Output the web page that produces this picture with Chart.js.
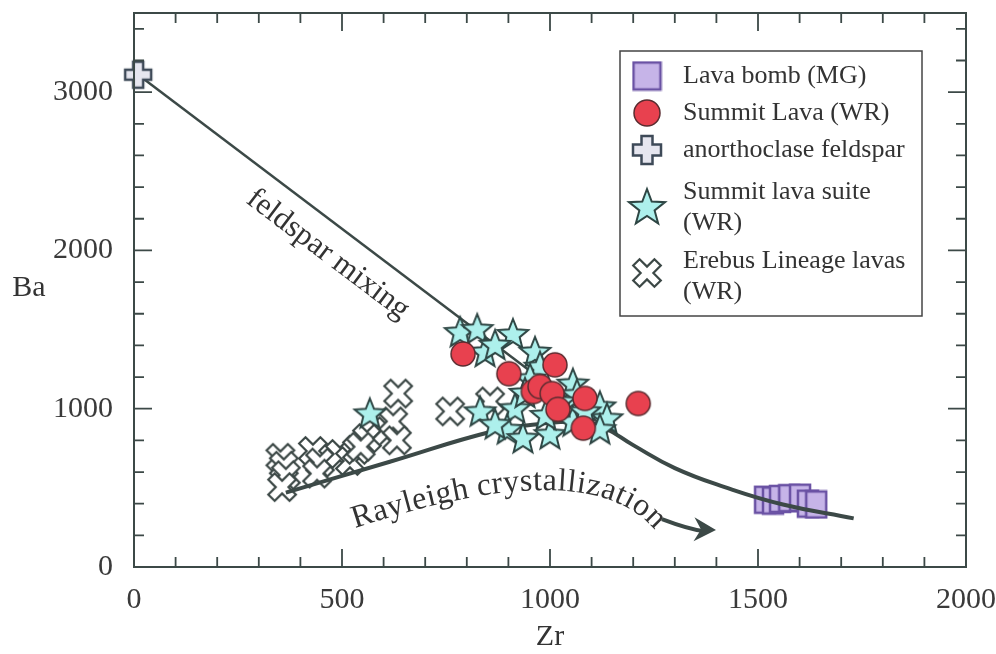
<!DOCTYPE html>
<html>
<head>
<meta charset="utf-8">
<title>Ba vs Zr</title>
<script src="https://cdn.jsdelivr.net/npm/chart.js@4.4.1/dist/chart.umd.min.js"></script>
<style>
  html, body { margin: 0; padding: 0; background: #fff; }
  canvas { display: block; }
</style>
</head>
<body>
<canvas id="baZrChart" width="996" height="654"></canvas>
<script>
// Sample groups, Zr and Ba in ppm
const lavaBombZr = [1517, 1536, 1553, 1575, 1601, 1620, 1640];
const lavaBombBa = [425, 420, 430, 435, 438, 400, 395];

const summitLavaZr = [791, 901, 1012, 960, 976, 1005, 1019, 1084, 1080, 1212];
const summitLavaBa = [1346, 1221, 1277, 1108, 1140, 1096, 996, 1065, 877, 1033];

const feldsparZr = [10];
const feldsparBa = [3110];

const suiteZr = [784, 825, 911, 844, 868, 964, 976, 952, 1055, 1065, 1120, 1137, 1120, 832, 916, 897, 935, 1000, 1055, 567, 1024, 1084, 868, 940, 990];
const suiteBa = [1484, 1503, 1472, 1359, 1403, 1359, 1265, 1190, 1158, 1090, 1014, 939, 870, 983, 1002, 870, 814, 839, 920, 970, 1045, 983, 902, 1100, 960];

const erebusZr = [352, 360, 365, 356, 430, 447, 440, 495, 519, 536, 560, 545, 608, 623, 632, 635, 760, 856];
const erebusBa = [690, 640, 580, 505, 733, 660, 590, 714, 670, 740, 814, 760, 858, 920, 800, 1096, 983, 1046];

// Model curves
const mixingZr = [10, 1120];
const mixingBa = [3110, 905];
const rayleighZr = [365, 615, 863, 980, 1080, 1130, 1200, 1300, 1420, 1560, 1730];
const rayleighBa = [470, 665, 858, 905, 915, 880, 770, 625, 505, 395, 307];

// Axis ticks
const zrTicks = [0, 500, 1000, 1500, 2000];
const baTicks = [0, 1000, 2000, 3000];

const INK = '#3c4947';
const SERIF = "'Liberation Serif', 'Times New Roman', serif";

function points(xs, ys) {
  return xs.map((x, i) => ({ x: x, y: ys[i] }));
}

// Marker sprites
function sprite(w, h, draw) {
  const c = document.createElement('canvas');
  c.width = w;
  c.height = h;
  const g = c.getContext('2d');
  g.translate(w / 2, h / 2);
  draw(g);
  return c;
}

function squareMark(w, h) {
  return sprite(w + 4, h + 4, g => {
    g.fillStyle = '#c6b4e8';
    g.strokeStyle = '#6a52a4';
    g.lineWidth = 2.5;
    g.fillRect(-w / 2, -h / 2, w, h);
    g.strokeRect(-w / 2, -h / 2, w, h);
  });
}

function circleMark(r) {
  return sprite(2 * r + 4, 2 * r + 4, g => {
    g.beginPath();
    g.arc(0, 0, r, 0, Math.PI * 2);
    g.fillStyle = '#e8414f';
    g.fill();
    g.strokeStyle = '#5a2c30';
    g.lineWidth = 1.5;
    g.stroke();
  });
}

function starMark(R, r) {
  return sprite(2 * R + 6, 2 * R + 6, g => {
    g.beginPath();
    for (let i = 0; i < 10; i++) {
      const a = -Math.PI / 2 + i * Math.PI / 5;
      const rad = i % 2 === 0 ? R : r;
      g.lineTo(Math.cos(a) * rad, Math.sin(a) * rad + 1);
    }
    g.closePath();
    g.fillStyle = '#adf0ec';
    g.fill();
    g.strokeStyle = '#2e4644';
    g.lineWidth = 2;
    g.lineJoin = 'miter';
    g.stroke();
  });
}

function plusPath(g, L, w) {
  const p = [[-w, -L], [w, -L], [w, -w], [L, -w], [L, w], [w, w], [w, L], [-w, L], [-w, w], [-L, w], [-L, -w], [-w, -w]];
  g.beginPath();
  p.forEach(([x, y]) => g.lineTo(x, y));
  g.closePath();
}

function crossMark(L, w) {
  return sprite(2 * L + 6, 2 * L + 6, g => {
    plusPath(g, L, w);
    g.fillStyle = '#e6e6ef';
    g.fill();
    g.strokeStyle = '#3e4a58';
    g.lineWidth = 2.5;
    g.stroke();
  });
}

function saltireMark(L, w) {
  const s = Math.ceil((L + w) * 1.5) + 4;
  return sprite(s, s, g => {
    g.rotate(Math.PI / 4);
    plusPath(g, L, w);
    g.fillStyle = '#fff';
    g.fill();
    g.strokeStyle = '#3c4846';
    g.lineWidth = 2.2;
    g.stroke();
  });
}

const marks = {
  bomb: squareMark(20, 26),
  lava: circleMark(12),
  feldspar: crossMark(13, 5),
  suite: starMark(16, 7),
  erebus: saltireMark(15, 4.5)
};

const legendMarks = {
  bomb: squareMark(27, 27),
  lava: circleMark(13),
  feldspar: crossMark(14, 5.5),
  suite: starMark(19, 8),
  erebus: saltireMark(15, 4.5)
};

// Text laid along a cubic curve given in pixels
function textOnCurve(ctx, text, p, font) {
  const N = 300;
  const pts = [];
  const len = [0];
  for (let i = 0; i <= N; i++) {
    const t = i / N, u = 1 - t;
    const x = u * u * u * p[0].x + 3 * u * u * t * p[1].x + 3 * u * t * t * p[2].x + t * t * t * p[3].x;
    const y = u * u * u * p[0].y + 3 * u * u * t * p[1].y + 3 * u * t * t * p[2].y + t * t * t * p[3].y;
    pts.push({ x, y });
    if (i > 0) len.push(len[i - 1] + Math.hypot(x - pts[i - 1].x, y - pts[i - 1].y));
  }
  ctx.font = font;
  const chars = [...text];
  const widths = chars.map(c => ctx.measureText(c).width);
  const total = widths.reduce((a, b) => a + b, 0);
  const gap = Math.max(0, (len[N] - total) / (chars.length - 1));
  let s = 0;
  ctx.textAlign = 'center';
  ctx.textBaseline = 'alphabetic';
  chars.forEach((c, i) => {
    const mid = s + widths[i] / 2;
    let k = 1;
    while (k < N && len[k] < mid) k++;
    const a = pts[k - 1], b = pts[k];
    const f = (mid - len[k - 1]) / ((len[k] - len[k - 1]) || 1);
    ctx.save();
    ctx.translate(a.x + (b.x - a.x) * f, a.y + (b.y - a.y) * f);
    ctx.rotate(Math.atan2(b.y - a.y, b.x - a.x));
    ctx.fillText(c, 0, 0);
    ctx.restore();
    s += widths[i] + gap;
  });
}

// Curve labels and the arrow
const labels = {
  id: 'labels',
  afterDatasetsDraw(chart) {
    const { ctx, scales: { x, y } } = chart;
    const px = (zr, ba) => ({ x: x.getPixelForValue(zr), y: y.getPixelForValue(ba) });
    ctx.save();
    ctx.fillStyle = '#333';

    // feldspar mixing, parallel to the mixing line
    const m0 = px(mixingZr[0], mixingBa[0]);
    const m1 = px(mixingZr[1], mixingBa[1]);
    const c = px(466, 1975);
    ctx.translate(c.x, c.y);
    ctx.rotate(Math.atan2(m1.y - m0.y, m1.x - m0.x));
    ctx.font = '31px ' + SERIF;
    ctx.textAlign = 'center';
    ctx.textBaseline = 'middle';
    ctx.fillText('feldspar mixing', 0, 0);
    ctx.setTransform(1, 0, 0, 1, 0, 0);

    textOnCurve(ctx, 'Rayleigh crystallization',
      [px(531, 246), px(808, 486), px(1120, 643), px(1252, 233)], '32px ' + SERIF);

    // arrow
    const a0 = px(1269, 303), a1 = px(1332, 240), tip = px(1399, 233);
    ctx.strokeStyle = INK;
    ctx.fillStyle = INK;
    ctx.lineWidth = 4;
    ctx.beginPath();
    ctx.moveTo(a0.x, a0.y);
    ctx.quadraticCurveTo(a1.x, a1.y, tip.x - 12, tip.y + 1);
    ctx.stroke();
    const ang = Math.atan2(tip.y - a1.y, tip.x - a1.x);
    ctx.translate(tip.x, tip.y);
    ctx.rotate(ang);
    ctx.beginPath();
    ctx.moveTo(0, 0);
    ctx.lineTo(-22, -12);
    ctx.lineTo(-15, 0);
    ctx.lineTo(-22, 12);
    ctx.closePath();
    ctx.fill();
    ctx.restore();
  }
};

// Frame, inward ticks on all sides, Ba title and legend box
const frame = {
  id: 'frame',
  afterDraw(chart) {
    const { ctx, chartArea: a, scales: { x, y } } = chart;
    ctx.save();
    ctx.strokeStyle = INK;
    ctx.lineWidth = 2;
    ctx.strokeRect(a.left, a.top, a.right - a.left, a.bottom - a.top);

    ctx.lineWidth = 1.8;
    ctx.beginPath();
    for (let v = 100; v < 2000; v += 100) {
      const p = x.getPixelForValue(v);
      const l = v % 500 === 0 ? 18 : 10;
      ctx.moveTo(p, a.bottom); ctx.lineTo(p, a.bottom - l);
      ctx.moveTo(p, a.top); ctx.lineTo(p, a.top + l);
    }
    for (let v = 200; v < 3500; v += 200) {
      const p = y.getPixelForValue(v);
      const l = v % 1000 === 0 ? 18 : 10;
      ctx.moveTo(a.left, p); ctx.lineTo(a.left + l, p);
      ctx.moveTo(a.right, p); ctx.lineTo(a.right - l, p);
    }
    ctx.stroke();

    ctx.fillStyle = '#333';
    ctx.font = '30px ' + SERIF;
    ctx.textAlign = 'center';
    ctx.textBaseline = 'middle';
    ctx.fillText('Ba', 29, 288);

    // legend
    const L = a.right - 346, T = a.top + 38, W = 302, H = 265;
    ctx.fillStyle = '#fff';
    ctx.fillRect(L, T, W, H);
    ctx.strokeStyle = '#444';
    ctx.lineWidth = 1.5;
    ctx.strokeRect(L, T, W, H);

    const rows = [
      { mark: legendMarks.bomb, my: 25, lines: ['Lava bomb (MG)'], ty: [25] },
      { mark: legendMarks.lava, my: 62, lines: ['Summit Lava (WR)'], ty: [62] },
      { mark: legendMarks.feldspar, my: 99, lines: ['anorthoclase feldspar'], ty: [99] },
      { mark: legendMarks.suite, my: 156, lines: ['Summit lava suite', '(WR)'], ty: [141, 172] },
      { mark: legendMarks.erebus, my: 222, lines: ['Erebus Lineage lavas', '(WR)'], ty: [210, 241] }
    ];
    ctx.font = '26px ' + SERIF;
    ctx.textAlign = 'left';
    ctx.fillStyle = '#333';
    rows.forEach(r => {
      ctx.drawImage(r.mark, L + 27 - r.mark.width / 2, T + r.my - r.mark.height / 2);
      r.lines.forEach((t, i) => ctx.fillText(t, L + 63, T + r.ty[i]));
    });
    ctx.restore();
  }
};

function renderChart() {
  const ctx = document.getElementById('baZrChart').getContext('2d');
  Chart.defaults.font.family = SERIF;
  Chart.defaults.color = '#333';

  new Chart(ctx, {
    type: 'scatter',
    data: {
      datasets: [
        { label: 'Erebus Lineage lavas (WR)', data: points(erebusZr, erebusBa), pointStyle: marks.erebus, pointRadius: 12, order: 7 },
        { label: 'Lava bomb (MG)', data: points(lavaBombZr, lavaBombBa), pointStyle: marks.bomb, pointRadius: 12, order: 6 },
        { label: 'Rayleigh crystallization', data: points(rayleighZr, rayleighBa), showLine: true, pointRadius: 0,
          borderColor: INK, borderWidth: 4, tension: 0.45, order: 5 },
        { label: 'feldspar mixing', data: points(mixingZr, mixingBa), showLine: true, pointRadius: 0,
          borderColor: INK, borderWidth: 2.5, tension: 0, order: 4 },
        { label: 'Summit lava suite (WR)', data: points(suiteZr, suiteBa), pointStyle: marks.suite, pointRadius: 12, order: 3 },
        { label: 'Summit Lava (WR)', data: points(summitLavaZr, summitLavaBa), pointStyle: marks.lava, pointRadius: 12, order: 2 },
        { label: 'anorthoclase feldspar', data: points(feldsparZr, feldsparBa), pointStyle: marks.feldspar, pointRadius: 12, order: 1, clip: false }
      ]
    },
    options: {
      responsive: false,
      animation: false,
      devicePixelRatio: 1,
      layout: { padding: { left: 0, right: 30, top: 10, bottom: 0 } },
      plugins: { legend: { display: false }, tooltip: { enabled: false } },
      scales: {
        x: {
          type: 'linear', min: 0, max: 2000,
          grid: { display: false },
          border: { display: false },
          afterBuildTicks: s => { s.ticks = zrTicks.map(v => ({ value: v })); },
          ticks: { font: { size: 30 }, color: '#3a3a3a', padding: 7, maxRotation: 0, callback: v => String(v) },
          title: { display: true, text: 'Zr', font: { size: 30, lineHeight: 1 }, color: '#333', padding: { top: 0, bottom: 2 } },
          afterFit: s => { s.height = 87; s.paddingLeft = 0; s.paddingRight = 0; }
        },
        y: {
          type: 'linear', min: 0, max: 3500,
          grid: { display: false },
          border: { display: false },
          afterBuildTicks: s => { s.ticks = baTicks.map(v => ({ value: v })); },
          ticks: { font: { size: 30 }, color: '#3a3a3a', padding: 13, callback: v => String(v) },
          afterFit: s => { s.width = 134; s.paddingTop = 0; s.paddingBottom = 0; }
        }
      }
    },
    plugins: [labels, frame]
  });
}

renderChart();
</script>
</body>
</html>
